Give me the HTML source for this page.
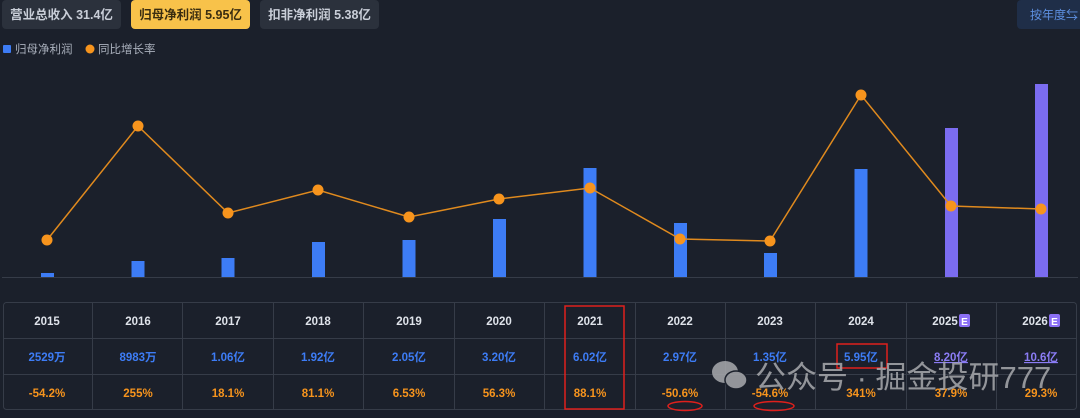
<!DOCTYPE html>
<html><head><meta charset="utf-8"><style>
body{margin:0;width:1080px;height:418px;background:#1b202b;overflow:hidden;font-family:"Liberation Sans","Noto Sans CJK SC",sans-serif}
</style></head><body>
<svg width="1080" height="418" xmlns="http://www.w3.org/2000/svg" style="position:absolute;left:0;top:0;font-family:'Liberation Sans','Noto Sans CJK SC',sans-serif">
<rect width="1080" height="418" fill="#1b202b"/>
<rect x="2" y="0" width="119" height="29" rx="4" fill="#2b313c"/>
<text x="61.5" y="19" fill="#c9ced8" font-size="12.5" font-weight="bold" text-anchor="middle">营业总收入 31.4亿</text>
<rect x="131" y="0" width="119" height="29" rx="4" fill="#f8c24a"/>
<text x="190.5" y="19" fill="#3a2d10" font-size="12.5" font-weight="bold" text-anchor="middle">归母净利润 5.95亿</text>
<rect x="260" y="0" width="119" height="29" rx="4" fill="#2b313c"/>
<text x="319.5" y="19" fill="#c9ced8" font-size="12.5" font-weight="bold" text-anchor="middle">扣非净利润 5.38亿</text>
<rect x="1017" y="0" width="70" height="29" rx="4" fill="#1f2e48"/>
<text x="1030" y="19" fill="#5d8fe0" font-size="12">按年度⇆</text>
<rect x="3" y="45" width="8" height="8" rx="1" fill="#3d7cf5"/>
<text x="15" y="53" fill="#aab0bc" font-size="11.5">归母净利润</text>
<circle cx="90" cy="49" r="4.5" fill="#f7941d"/>
<text x="98" y="53" fill="#aab0bc" font-size="11.5">同比增长率</text>
<line x1="2" y1="277.5" x2="1078" y2="277.5" stroke="#363c48" stroke-width="1"/>
<g fill="#3d7cf5">
<rect x="41" y="273" width="13" height="4"/>
<rect x="131.5" y="261" width="13" height="16"/>
<rect x="221.5" y="258" width="13" height="19"/>
<rect x="312" y="242" width="13" height="35"/>
<rect x="402.5" y="240" width="13" height="37"/>
<rect x="493" y="219" width="13" height="58"/>
<rect x="583.5" y="168" width="13" height="109"/>
<rect x="674" y="223" width="13" height="54"/>
<rect x="764" y="253" width="13" height="24"/>
<rect x="854.5" y="169" width="13" height="108"/>
</g>
<rect x="945" y="128" width="13" height="149" fill="#7b6cf0"/>
<rect x="1035" y="84" width="13" height="193" fill="#7b6cf0"/>
<polyline fill="none" stroke="#e08a1e" stroke-width="1.5" points="47,240 138,126 228,213 318,190 409,217 499,199 590,188 680,239 770,241 861,95 951,206 1041,209"/>
<g fill="#f7941d">
<circle cx="47" cy="240" r="5.5"/><circle cx="138" cy="126" r="5.5"/><circle cx="228" cy="213" r="5.5"/><circle cx="318" cy="190" r="5.5"/><circle cx="409" cy="217" r="5.5"/><circle cx="499" cy="199" r="5.5"/><circle cx="590" cy="188" r="5.5"/><circle cx="680" cy="239" r="5.5"/><circle cx="770" cy="241" r="5.5"/><circle cx="861" cy="95" r="5.5"/><circle cx="951" cy="206" r="5.5"/><circle cx="1041" cy="209" r="5.5"/>
</g>
<rect x="3.5" y="302.5" width="1073" height="107" rx="3" fill="none" stroke="#363c48"/>
<line x1="3" y1="338.5" x2="1077" y2="338.5" stroke="#363c48"/>
<line x1="3" y1="374.5" x2="1077" y2="374.5" stroke="#363c48"/>
<g stroke="#363c48">
<line x1="92.5" y1="303" x2="92.5" y2="409"/><line x1="182.5" y1="303" x2="182.5" y2="409"/><line x1="273.5" y1="303" x2="273.5" y2="409"/><line x1="363.5" y1="303" x2="363.5" y2="409"/><line x1="454.5" y1="303" x2="454.5" y2="409"/><line x1="544.5" y1="303" x2="544.5" y2="409"/><line x1="635.5" y1="303" x2="635.5" y2="409"/><line x1="725.5" y1="303" x2="725.5" y2="409"/><line x1="815.5" y1="303" x2="815.5" y2="409"/><line x1="906.5" y1="303" x2="906.5" y2="409"/><line x1="996.5" y1="303" x2="996.5" y2="409"/>
</g>
<g font-size="11.5" font-weight="bold" text-anchor="middle" fill="#dfe3ea">
<text x="47" y="325">2015</text><text x="138" y="325">2016</text><text x="228" y="325">2017</text><text x="318" y="325">2018</text><text x="409" y="325">2019</text><text x="499" y="325">2020</text><text x="590" y="325">2021</text><text x="680" y="325">2022</text><text x="770" y="325">2023</text><text x="861" y="325">2024</text><text x="945" y="325">2025</text><text x="1035" y="325">2026</text>
</g>
<rect x="959" y="314" width="11" height="13" rx="2" fill="#8b6ff5"/><text x="964.5" y="325" fill="#fff" font-size="10" font-weight="bold" text-anchor="middle">E</text>
<rect x="1049" y="314" width="11" height="13" rx="2" fill="#8b6ff5"/><text x="1054.5" y="325" fill="#fff" font-size="10" font-weight="bold" text-anchor="middle">E</text>
<g font-size="11.5" font-weight="bold" text-anchor="middle" fill="#3d7cf5">
<text x="47" y="361">2529万</text><text x="138" y="361">8983万</text><text x="228" y="361">1.06亿</text><text x="318" y="361">1.92亿</text><text x="409" y="361">2.05亿</text><text x="499" y="361">3.20亿</text><text x="590" y="361">6.02亿</text><text x="680" y="361">2.97亿</text><text x="770" y="361">1.35亿</text><text x="861" y="361">5.95亿</text>
<text x="951" y="361" fill="#8b7cf5" text-decoration="underline">8.20亿</text><text x="1041" y="361" fill="#8b7cf5" text-decoration="underline">10.6亿</text>
</g>
<g font-size="11.5" font-weight="bold" text-anchor="middle" fill="#f7941d">
<text x="47" y="397">-54.2%</text><text x="138" y="397">255%</text><text x="228" y="397">18.1%</text><text x="318" y="397">81.1%</text><text x="409" y="397">6.53%</text><text x="499" y="397">56.3%</text><text x="590" y="397">88.1%</text><text x="680" y="397">-50.6%</text><text x="770" y="397">-54.6%</text><text x="861" y="397">341%</text><text x="951" y="397">37.9%</text><text x="1041" y="397">29.3%</text>
</g>
<g fill="none" stroke="#e0201c" stroke-width="1.5">
<rect x="565" y="306" width="59" height="103"/>
<rect x="837" y="344" width="50" height="24"/>
<ellipse cx="685" cy="406" rx="17" ry="4.5"/>
<ellipse cx="774" cy="406" rx="20" ry="4.5"/>
</g>
<g fill="#a8aaae" opacity="0.85">
<ellipse cx="725" cy="372" rx="13" ry="11"/>
<ellipse cx="736" cy="380" rx="11" ry="9" stroke="#1b202b" stroke-width="1.5"/>
</g>
<text x="755" y="388" fill="#a8aaae" opacity="0.85" font-size="31">公众号 · 掘金投研777</text>
</svg>
</body></html>
